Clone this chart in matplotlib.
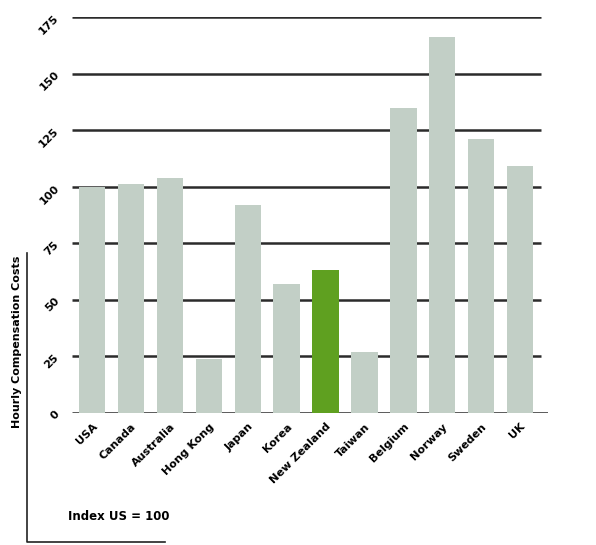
import matplotlib.pyplot as plt
from matplotlib.lines import Line2D

# --- dados ---
paises = ['USA', 'Canada', 'Australia', 'Hong Kong', 'Japan', 'Korea',
          'New Zealand', 'Taiwan', 'Belgium', 'Norway', 'Sweden', 'UK']
indice = [100, 101, 104, 24, 92, 57, 63, 27, 135, 166, 121, 109]
destaque = 'New Zealand'
y_ticks = [0, 25, 50, 75, 100, 125, 150, 175]

cor_barra = '#c2cfc6'
cor_destaque = '#5fa020'
fonte = ['Liberation Sans Narrow', 'DejaVu Sans']
plt.rcParams['font.family'] = fonte

W, H = 596, 545
fig = plt.figure(figsize=(W / 100, H / 100), dpi=100)
ax = fig.add_axes([72 / W, (H - 413) / H, (548 - 72) / W, 396 / H])

x = list(range(len(paises)))
cores = [cor_destaque if p == destaque else cor_barra for p in paises]

# linhas de grade atrás das barras
ax.hlines(y_ticks[1:], -0.52, 11.55, color='#2b2b2b', lw=1.8, zorder=1)
ax.hlines([0], -0.52, 11.72, color='#2b2b2b', lw=1.8, zorder=1)
ax.bar(x, indice, width=0.68, color=cores, zorder=2)

ax.set_xlim(-0.52, 11.72)
ax.set_ylim(0, 175)
ax.set_yticks(y_ticks)
ax.set_yticklabels([str(v) for v in y_ticks], rotation=45, fontsize=8,
                   fontweight='bold')
ax.set_xticks(x)
ax.set_xticklabels(paises, rotation=45, ha='right', rotation_mode='anchor',
                   fontsize=8, fontweight='bold')
ax.tick_params(length=0, pad=8)
ax.tick_params(axis='x', pad=6)
for s in ax.spines.values():
    s.set_visible(False)

# título do eixo e nota
fig.text(17 / W, (H - 428) / H, 'Hourly Compensation Costs', rotation=90,
         ha='center', va='bottom', fontsize=8, fontweight='bold')
fig.text(68 / W, (H - 517) / H, 'Index US = 100', ha='left', va='center',
         fontsize=8.5, fontweight='bold')
fig.add_artist(Line2D([27 / W, 27 / W, 165 / W],
                      [(H - 253) / H, (H - 542) / H, (H - 542) / H],
                      color='#222222', lw=1.2, transform=fig.transFigure))

fig.savefig('out.png', dpi=100)
